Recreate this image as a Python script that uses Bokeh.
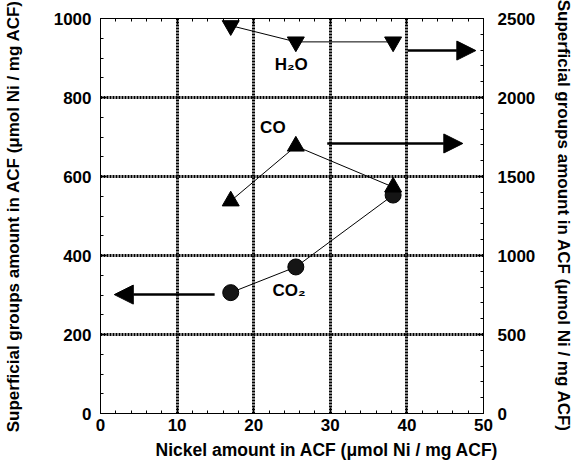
from bokeh.plotting import figure
from bokeh.models import Range1d, LinearAxis, FixedTicker, Arrow, NormalHead, Label, Title
from bokeh.embed import file_html
from bokeh.resources import INLINE

# ---- data ----
nickel = [17.0, 25.5, 38.2]          # Nickel amount in ACF (umol Ni / mg ACF)
co2 = [306, 371, 553]                # left axis
co = [1345, 1692, 1433]              # right axis
h2o = [2455, 2352, 2352]             # right axis

x_ticks = [0, 10, 20, 30, 40, 50]
left_ticks = [0, 200, 400, 600, 800, 1000]
right_ticks = [0, 500, 1000, 1500, 2000, 2500]

# arrow annotations (which axis each series belongs to)
co2_arrow = {"x_start": 14.9, "x_end": 1.8, "y": 301}
co_arrow = {"x_start": 29.6, "x_end": 47.3, "y": 1709}
h2o_arrow = {"x_start": 40.1, "x_end": 49.0, "y": 2297}

# series labels
labels = [
    ("H\u2082O", 24.9, 2212, "right"),
    ("CO", 22.5, 724, "default"),
    ("CO\u2082", 24.6, 312, "default"),
]

FONT = "Liberation Sans"
AXIS_LABEL = "Superficial groups amount in ACF (\u03bcmol Ni / mg ACF)"
X_LABEL = "Nickel amount in ACF (\u03bcmol Ni / mg ACF)"

p = figure(width=579, height=468, x_range=Range1d(0, 50), y_range=Range1d(0, 1000),
           output_backend="svg", toolbar_location=None,
           min_border_left=100, min_border_right=96, min_border_top=18, min_border_bottom=55)
p.extra_y_ranges = {"right": Range1d(0, 2500)}
p.background_fill_color = "white"
p.border_fill_color = "white"
p.outline_line_color = "black"
p.outline_line_width = 1


def style_axis(ax, ticks, minor):
    ax.ticker = FixedTicker(ticks=ticks, minor_ticks=minor)
    ax.axis_line_color = "black"
    ax.axis_line_width = 1
    ax.major_tick_in = 6
    ax.major_tick_out = 0
    ax.minor_tick_in = 3
    ax.minor_tick_out = 0
    ax.major_tick_line_color = "black"
    ax.minor_tick_line_color = "black"
    ax.major_label_text_font = FONT
    ax.major_label_text_font_style = "bold"
    ax.major_label_text_font_size = "17px"
    ax.major_label_text_color = "black"
    ax.axis_label_text_font = FONT
    ax.axis_label_text_font_style = "bold"
    ax.axis_label_text_font_size = "17px"
    ax.axis_label_text_color = "black"


x_minor = list(range(0, 51, 2))
left_minor = list(range(0, 1001, 50))
right_minor = list(range(0, 2501, 100))

xa = p.xaxis[0]
style_axis(xa, x_ticks, x_minor)
xa.major_label_standoff = 5

ya = p.yaxis[0]
style_axis(ya, left_ticks, left_minor)
ya.axis_label = AXIS_LABEL
ya.major_label_standoff = 9
ya.axis_label_standoff = 28

ra = LinearAxis(y_range_name="right")
style_axis(ra, right_ticks, right_minor)
ra.axis_label = AXIS_LABEL
ra.major_label_standoff = 14
ra.axis_label_standoff = 16
p.add_layout(ra, "right")

ta = LinearAxis()
style_axis(ta, x_ticks, x_minor)
ta.major_label_overrides = {t: "" for t in x_ticks}
ta.major_label_standoff = 0
p.add_layout(ta, "above")

# x-axis title, offset to the right as in the reference
xt = Title(text=X_LABEL, align="left", offset=55, standoff=9,
           text_font=FONT, text_font_style="bold", text_font_size="17.5px", text_color="black")
p.add_layout(xt, "below")

# grid: thick dotted lines
p.xgrid.ticker = FixedTicker(ticks=[10, 20, 30, 40])
p.ygrid.ticker = FixedTicker(ticks=[200, 400, 600, 800])
for g in (p.xgrid[0], p.ygrid[0]):
    g.grid_line_color = "black"
    g.grid_line_width = 3
    g.grid_line_dash = "2 1"
    g.grid_line_alpha = 1.0

# series
p.line(nickel, co2, line_color="black", line_width=1)
p.scatter(nickel, co2, marker="circle", size=16, fill_color="#151515", line_color="black")

p.line(nickel, co, line_color="black", line_width=1, y_range_name="right")
p.scatter(nickel, co, marker="triangle", size=17, fill_color="black", line_color="black",
          y_range_name="right")

p.line(nickel, h2o, line_color="black", line_width=1, y_range_name="right")
p.scatter(nickel, h2o, marker="inverted_triangle", size=17, fill_color="black",
          line_color="black", y_range_name="right")

# arrows
p.add_layout(Arrow(end=NormalHead(size=19, fill_color="black", line_color="black"),
                   x_start=co2_arrow["x_start"], x_end=co2_arrow["x_end"],
                   y_start=co2_arrow["y"], y_end=co2_arrow["y"],
                   line_width=2.5, line_color="black"))
p.add_layout(Arrow(end=NormalHead(size=19, fill_color="black", line_color="black"),
                   x_start=co_arrow["x_start"], x_end=co_arrow["x_end"],
                   y_start=co_arrow["y"], y_end=co_arrow["y"],
                   line_width=2.5, line_color="black", y_range_name="right"))
p.add_layout(Arrow(end=NormalHead(size=19, fill_color="black", line_color="black"),
                   x_start=h2o_arrow["x_start"], x_end=h2o_arrow["x_end"],
                   y_start=h2o_arrow["y"], y_end=h2o_arrow["y"],
                   line_width=2.5, line_color="black", y_range_name="right"))

for txt, lx, ly, rng in labels:
    p.add_layout(Label(x=lx, y=ly, text=txt, text_align="center", text_baseline="middle",
                       text_font=FONT, text_font_style="bold", text_font_size="17px",
                       text_color="black", y_range_name=rng))

open("out.html", "w").write(file_html(p, INLINE))
